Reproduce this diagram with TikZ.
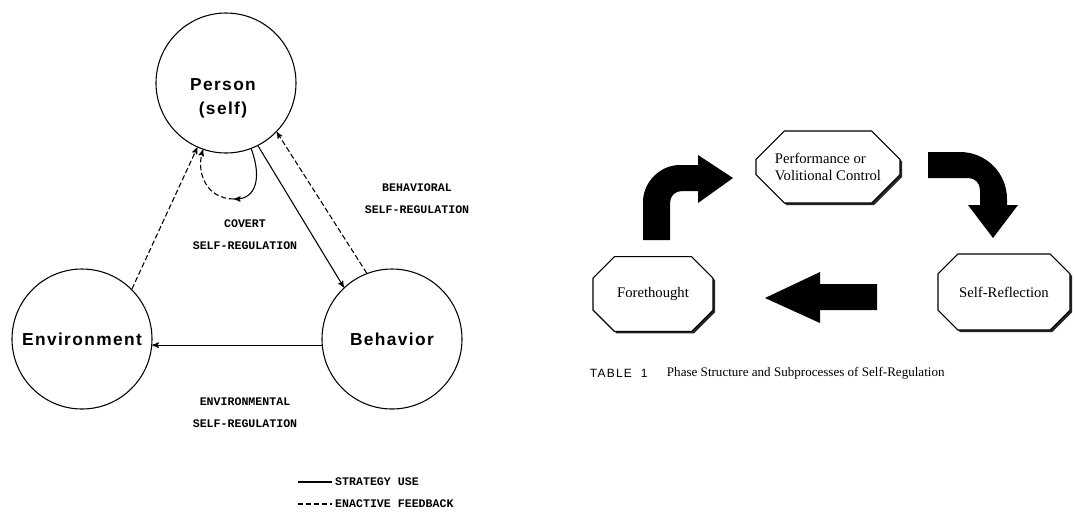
\documentclass[tikz,border=0pt]{standalone}
\usepackage{fontspec}
\setmainfont{Liberation Serif}
\newfontfamily\circfont[LetterSpace=8]{Liberation Sans}
\newfontfamily\typefont{Liberation Mono}
\newfontfamily\capfont[LetterSpace=10]{Liberation Sans}
\usepackage{xcolor}
\usepackage{tikz}
\usetikzlibrary{arrows,shapes.misc,shadows}

\begin{document}
\begin{tikzpicture}[->,>=stealth',x=0.75pt,y=-0.75pt,thick,node distance=16.5pt]
  \tikzstyle{agent}=[circle,draw,thick,minimum size=105pt,inner sep=0pt,font=\circfont\bfseries\fontsize{13}{18}\selectfont,align=center]
  \tikzstyle{lbl}=[font=\typefont\bfseries\fontsize{8.7}{10}\selectfont,inner sep=0pt]
  \tikzstyle{feed}=[dash pattern=on 4pt off 2pt]
  \tikzstyle{phase}=[chamfered rectangle,chamfered rectangle sep=11pt,draw,thick,fill=white,
                     drop shadow={shadow xshift=1.6pt,shadow yshift=-1.6pt,opacity=1,fill=black!85},
                     font=\fontsize{11}{12.5}\selectfont,align=left,inner sep=0pt]
  \tikzstyle{bigarrow}=[fill=black,draw=none]

  \useasboundingbox (0,0) rectangle (1075,512);

  % triadic model
  \node[agent]   (per)                      at (226,83)  {};
  \node[agent,inner sep=0pt,draw=none,minimum size=0pt] (pername) at (223,98) {Person\\(self)};
  \node[agent]   (env)                      at (82,339)  {Environment};
  \node[agent]   (beh)                      at (392,339) {Behavior};

  \path (env.45)  edge[feed]  (per.246)
        (per.297) edge        (beh.133)
        (beh.111) edge[feed]  (per.316)
        (beh.185) edge        (env.355);

  % covert loop
  \coordinate (cov) at (234,199);
  \draw (per.291) .. controls (262,178) and (256,199) .. (cov);
  \draw[feed] (cov) .. controls (206,199) and (196,172) .. (per.251);

  \node[lbl]  (behreg)               at (417,188) {BEHAVIORAL};
  \node[lbl]  (behreg2) [below of=behreg] {SELF-REGULATION};
  \node[lbl]  (covreg)               at (245,224) {COVERT};
  \node[lbl]  (covreg2) [below of=covreg] {SELF-REGULATION};
  \node[lbl]  (envreg)               at (245,402) {ENVIRONMENTAL};
  \node[lbl]  (envreg2) [below of=envreg] {SELF-REGULATION};

  % legend
  \coordinate (stratend) at (298,482);
  \coordinate (feedend)  at (298,504);
  \node[lbl,anchor=west,inner xsep=2pt] (strat) at (332,482) {STRATEGY USE};
  \node[lbl,anchor=west,inner xsep=2pt] (feedb) at (332,504) {ENACTIVE FEEDBACK};
  \draw[-,very thick]      (stratend) -- (strat);
  \draw[-,very thick,feed] (feedend)  -- (feedb);

  % cyclical phases
  \node[phase,minimum width=108pt,minimum height=54pt] (perf) at (828,167) {Performance or\\Volitional Control};
  \node[phase,minimum width=90pt,minimum height=56pt]  (fore) at (653,294) {Forethought};
  \node[phase,minimum width=99pt,minimum height=57pt]  (refl) at (1004,292) {Self-Reflection};

  \fill[bigarrow] (643,240) -- (643,202) .. controls (643,182) and (660,165) .. (680,165)
                  -- (698,165) -- (698,155) -- (733,178) -- (698,203) -- (698,191) -- (682,191)
                  .. controls (675,191) and (670,196) .. (670,203) -- (670,240) -- cycle;
  \fill[bigarrow] (928,152) -- (960,152) .. controls (986,152) and (1007,173) .. (1007,199)
                  -- (1007,205) -- (1018,205) -- (993,238) -- (968,205) -- (980,205) -- (980,190)
                  .. controls (980,183) and (975,178) .. (968,178) -- (928,178) -- cycle;
  \fill[bigarrow] (877,284) -- (820,284) -- (820,272) -- (765,298) -- (820,323) -- (820,310)
                  -- (877,310) -- cycle;

  \node[anchor=west,font=\capfont\fontsize{9}{10}\selectfont] (tabno) at (585,373) {TABLE\ \ 1};
  \node[anchor=west,font=\fontsize{9.8}{10}\selectfont] (tabtitle) at (662,373) {Phase Structure and Subprocesses of Self-Regulation};
\end{tikzpicture}
\end{document}
